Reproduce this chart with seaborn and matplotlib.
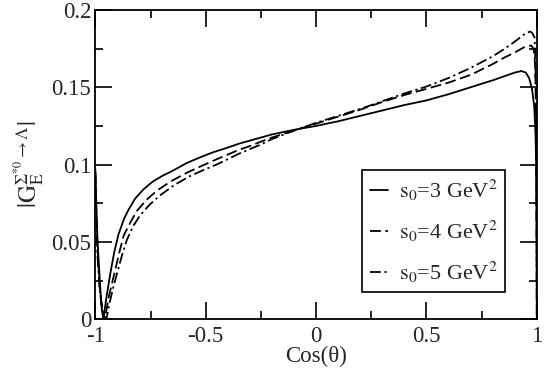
import pandas as pd
import matplotlib
matplotlib.use("Agg")
import matplotlib.pyplot as plt
import seaborn as sns

# |G_E| for three Borel thresholds s0
x_s3 = [-1.0, -0.995, -0.99, -0.98, -0.972, -0.964, -0.95, -0.933, -0.915, -0.895,
        -0.87, -0.849, -0.82, -0.782, -0.74, -0.699, -0.65, -0.586, -0.52, -0.466,
        -0.4, -0.35, -0.3, -0.25, -0.2, -0.1, 0.0, 0.1, 0.2, 0.3,
        0.4, 0.5, 0.6, 0.7, 0.8, 0.85, 0.9, 0.93, 0.95, 0.965,
        0.978, 0.988, 0.994, 0.997, 0.999, 1.0]
y_s3 = [0.097, 0.07, 0.05, 0.025, 0.008, 0.0, 0.014, 0.029, 0.043, 0.055,
        0.065, 0.071, 0.078, 0.084, 0.089, 0.0925, 0.096, 0.101, 0.105, 0.108,
        0.111, 0.1135, 0.1155, 0.1175, 0.1195, 0.1225, 0.125, 0.128, 0.1315, 0.135,
        0.1385, 0.1415, 0.1455, 0.150, 0.1545, 0.157, 0.1595, 0.1605, 0.1595, 0.156,
        0.149, 0.138, 0.12, 0.10, 0.05, 0.0]

x_s4 = [-1.0, -0.995, -0.99, -0.98, -0.97, -0.957, -0.94, -0.925, -0.91, -0.89,
        -0.872, -0.84, -0.812, -0.77, -0.722, -0.66, -0.586, -0.52, -0.466, -0.4,
        -0.35, -0.3, -0.25, -0.2, -0.1, 0.0, 0.1, 0.2, 0.3, 0.4,
        0.5, 0.6, 0.7, 0.8, 0.85, 0.9, 0.95, 0.975, 0.985, 0.99,
        0.994, 0.997, 0.999, 1.0]
y_s4 = [0.095, 0.065, 0.045, 0.02, 0.006, 0.0, 0.014, 0.023, 0.032, 0.044,
        0.054, 0.063, 0.070, 0.077, 0.083, 0.089, 0.0947, 0.099, 0.1025, 0.1065,
        0.1095, 0.112, 0.1148, 0.1175, 0.122, 0.1265, 0.131, 0.1355, 0.1405, 0.145,
        0.149, 0.153, 0.158, 0.165, 0.169, 0.1725, 0.1765, 0.177, 0.175, 0.170,
        0.155, 0.12, 0.06, 0.0]

x_s5 = [-1.0, -0.995, -0.99, -0.98, -0.965, -0.95, -0.935, -0.92, -0.903, -0.88,
        -0.858, -0.83, -0.798, -0.755, -0.708, -0.64, -0.572, -0.51, -0.451, -0.4,
        -0.35, -0.3, -0.25, -0.2, -0.1, 0.0, 0.1, 0.2, 0.3, 0.4,
        0.5, 0.6, 0.7, 0.8, 0.85, 0.9, 0.95, 0.97, 0.98, 0.99,
        0.994, 0.997, 0.999, 1.0]
y_s5 = [0.093, 0.06, 0.04, 0.018, 0.004, 0.0, 0.011, 0.020, 0.029, 0.041,
        0.051, 0.060, 0.067, 0.074, 0.080, 0.087, 0.0925, 0.0965, 0.100, 0.1035,
        0.107, 0.110, 0.113, 0.1165, 0.122, 0.127, 0.1315, 0.136, 0.141, 0.146,
        0.1505, 0.156, 0.1625, 0.170, 0.1745, 0.1795, 0.185, 0.186, 0.185, 0.182,
        0.165, 0.13, 0.065, 0.0]

labels = [r'$\mathrm{s_0}$=3 GeV$^2$', r'$\mathrm{s_0}$=4 GeV$^2$', r'$\mathrm{s_0}$=5 GeV$^2$']

sns.set_style("ticks")
plt.rcParams['font.family'] = ['Liberation Serif', 'DejaVu Serif']
plt.rcParams['mathtext.fontset'] = 'stix'

fig = plt.figure(figsize=(5.45, 3.69), dpi=100)
ax = fig.add_axes([0.175, 0.135, 0.81, 0.838])

sns.lineplot(x=x_s3, y=y_s3, ax=ax, color='black', lw=1.3, sort=False,
             estimator=None, label=labels[0])
sns.lineplot(x=x_s4, y=y_s4, ax=ax, color='black', lw=1.3, sort=False,
             estimator=None, label=labels[1])
sns.lineplot(x=x_s5, y=y_s5, ax=ax, color='black', lw=1.3, sort=False,
             estimator=None, label=labels[2])
ax.lines[1].set_dashes([6, 2.5])
ax.lines[2].set_dashes([6, 2, 1.2, 2])

ax.set_xlim(-1, 1)
ax.set_ylim(0, 0.2)
ax.set_xticks([-1, -0.5, 0, 0.5, 1])
ax.set_xticklabels(['-1', '-0.5', '0', '0.5', '1'])
ax.set_xticks([-0.75, -0.25, 0.25, 0.75], minor=True)
ax.set_yticks([0, 0.05, 0.1, 0.15, 0.2])
ax.set_yticklabels(['0', '0.05', '0.1', '0.15', '0.2'])
ax.set_yticks([0.025, 0.075, 0.125, 0.175], minor=True)
ax.tick_params(which='both', direction='in', top=True, right=True,
               labelsize=16.5, width=1.2, color='black')
ax.tick_params(which='major', length=12)
ax.tick_params(axis='y', which='major', pad=3)
ax.tick_params(axis='x', which='major', pad=5)
ax.tick_params(which='minor', length=6)
for s in ax.spines.values():
    s.set_linewidth(1.3)
    s.set_color('black')

ax.set_xlabel('Cos(θ)', fontsize=16.5, labelpad=-1)
ax.set_ylabel(r'$|\mathrm{G}_\mathrm{E}^{\Sigma^{*0}\rightarrow\Lambda}|$', fontsize=18, labelpad=3)

leg = ax.legend(loc='lower left', bbox_to_anchor=(0.604, 0.087), fontsize=16,
                handlelength=0.8, handletextpad=0.5, borderpad=0.35,
                labelspacing=0.7, fancybox=False, framealpha=1,
                edgecolor='black', borderaxespad=0)
leg.get_frame().set_linewidth(1.2)

plt.savefig("out.png", dpi=100)
